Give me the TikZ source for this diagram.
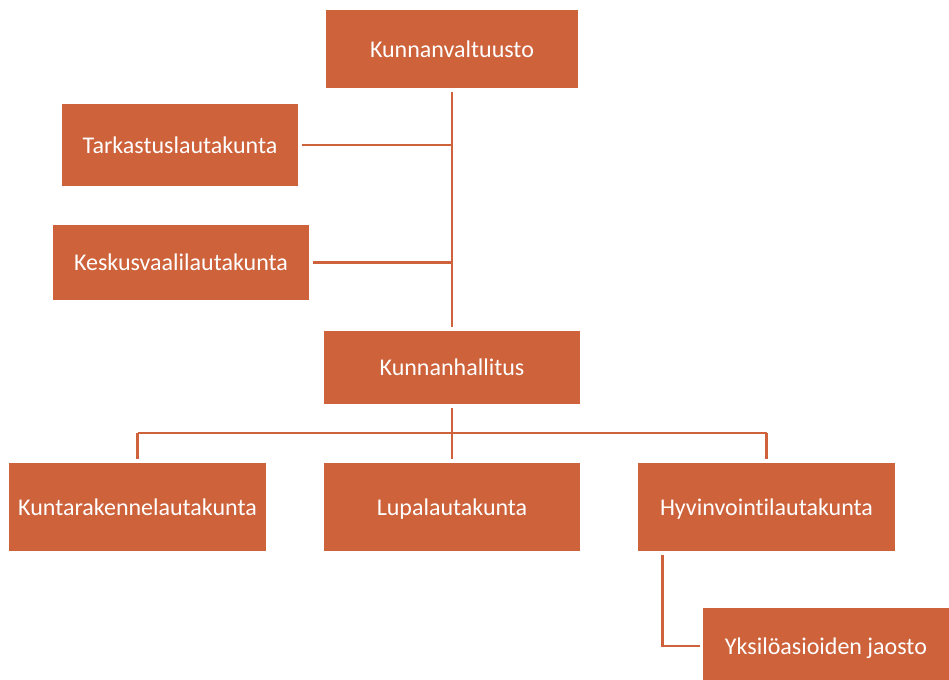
\documentclass[tikz,border=0pt]{standalone}
\usepackage{fontspec}
\setmainfont{Carlito}[Ligatures=NoCommon]
\definecolor{brick}{RGB}{205,98,59}

\begin{document}
\begin{tikzpicture}[x=0.75pt,y=-0.75pt,
        box/.style={fill=brick, text=white, inner sep=0pt, text height=13pt, text depth=1pt,
                    font=\fontsize{18}{22}\selectfont},
        link/.style={draw=brick, line width=2.2pt}]
                \useasboundingbox (0,0) rectangle (949,679);

                % boxes
                \node[box, minimum width=252*0.75pt, minimum height=78*0.75pt] (valtuusto) at (452,49) {Kunnanvaltuusto};
                \node[box, minimum width=236*0.75pt, minimum height=82*0.75pt] (tarkastus) at (180,145) {Tarkastuslautakunta};
                \node[box, minimum width=256*0.75pt, minimum height=75*0.75pt] (keskus) at (181,262.5) {Keskusvaalilautakunta};
                \node[box, minimum width=256*0.75pt, minimum height=73*0.75pt] (hallitus) at (452,367.5) {Kunnanhallitus};
                \node[box, minimum width=257*0.75pt, minimum height=88*0.75pt] (rakenne) at (137.5,507) {Kuntarakennelautakunta};
                \node[box, minimum width=256*0.75pt, minimum height=88*0.75pt] (lupa) at (452,507) {Lupalautakunta};
                \node[box, minimum width=257*0.75pt, minimum height=88*0.75pt] (hyvinvointi) at (766.5,507) {Hyvinvointilautakunta};
                \node[box, minimum width=246*0.75pt, minimum height=76*0.75pt] (jaosto) at (826,646) {Yksilöasioiden jaosto};

                % connectors
                \coordinate (bus) at (452,433);
                \draw[link, shorten <=3pt, shorten >=3pt] (valtuusto.south) -- (hallitus.north);
                \draw[link, shorten <=3pt] (tarkastus.east) -- (tarkastus.east -| valtuusto.south);
                \draw[link, shorten <=3pt] (keskus.east) -- (keskus.east -| valtuusto.south);
                \draw[link, shorten <=3pt] (hallitus.south) -- (bus);
                \draw[link] (rakenne.north |- bus) -- (hyvinvointi.north |- bus);
                \draw[link, shorten >=3pt] (rakenne.north |- bus) -- (rakenne.north);
                \draw[link, shorten >=3pt] (bus) -- (lupa.north);
                \draw[link, shorten >=3pt] (hyvinvointi.north |- bus) -- (hyvinvointi.north);
                \draw[link, shorten <=3pt, shorten >=2pt] ([xshift=25*0.75pt]hyvinvointi.south west) |- (jaosto.west);
            \end{tikzpicture}
\end{document}
